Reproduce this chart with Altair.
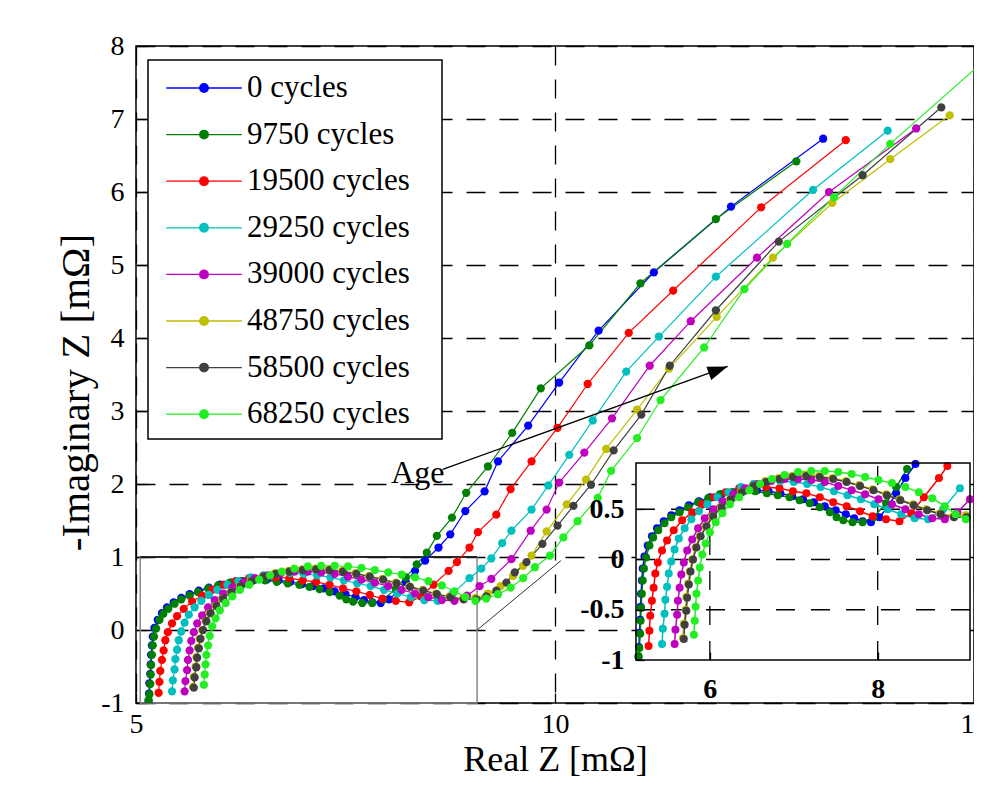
import altair as alt
import pandas as pd

SERIF = "Liberation Serif"

SERIES = ["0 cycles", "9750 cycles", "19500 cycles", "29250 cycles",
          "39000 cycles", "48750 cycles", "58500 cycles", "68250 cycles"]
COLORS = ["#0000ff", "#007f00", "#ff0000", "#00bfbf",
          "#bf00bf", "#bfbf00", "#404040", "#22ee22"]

# ---- series values (Real Z, -Imag Z) in mOhm ----
X_0 = [5.15, 5.155, 5.16, 5.17, 5.175, 5.18, 5.19, 5.20, 5.22, 5.26, 5.31, 5.37, 5.45, 5.54, 5.64, 5.75,
       5.87, 6.00, 6.14, 6.28, 6.42, 6.56, 6.70, 6.84, 6.98, 7.11, 7.24, 7.37, 7.50, 7.62, 7.72, 7.82,
       7.92, 8.02, 8.12, 8.22, 8.33, 8.45, 8.61, 8.75, 8.93, 9.16, 9.32, 9.68, 10.05, 10.52, 11.18, 12.10, 13.20]
Y_0 = [-0.97, -0.87, -0.73, -0.60, -0.47, -0.34, -0.21, -0.09, 0.03, 0.14, 0.23, 0.31, 0.38, 0.44, 0.49, 0.54,
       0.58, 0.62, 0.65, 0.67, 0.69, 0.69, 0.68, 0.66, 0.63, 0.60, 0.57, 0.53, 0.49, 0.45, 0.41, 0.38,
       0.37, 0.42, 0.52, 0.66, 0.81, 0.95, 1.13, 1.31, 1.63, 1.90, 2.31, 2.80, 3.39, 4.10, 4.90, 5.80, 6.73]

X_9750 = [5.15, 5.16, 5.17, 5.175, 5.18, 5.19, 5.20, 5.215, 5.24, 5.28, 5.325, 5.385, 5.46, 5.54, 5.64, 5.74,
          5.86, 5.98, 6.12, 6.26, 6.40, 6.54, 6.68, 6.81, 6.95, 7.07, 7.19, 7.31, 7.43, 7.51, 7.59, 7.70,
          7.82, 7.95, 8.10, 8.22, 8.35, 8.47, 8.59, 8.77, 8.94, 9.20, 9.49, 9.83, 10.41, 11.02, 11.92, 12.88]
Y_9750 = [-0.96, -0.88, -0.74, -0.61, -0.48, -0.34, -0.21, -0.09, 0.02, 0.14, 0.22, 0.29, 0.36, 0.42, 0.47, 0.52,
          0.57, 0.61, 0.65, 0.67, 0.68, 0.68, 0.66, 0.64, 0.62, 0.59, 0.56, 0.52, 0.47, 0.42, 0.39, 0.37,
          0.37, 0.42, 0.56, 0.72, 0.90, 1.06, 1.29, 1.54, 1.88, 2.24, 2.70, 3.31, 3.90, 4.75, 5.63, 6.42]

X_19500 = [5.27, 5.28, 5.29, 5.31, 5.33, 5.35, 5.38, 5.43, 5.49, 5.57, 5.67, 5.79, 5.91, 6.05, 6.19, 6.35,
           6.51, 6.67, 6.83, 6.99, 7.15, 7.31, 7.47, 7.63, 7.79, 7.94, 8.10, 8.26, 8.40, 8.55, 8.73, 8.83,
           8.98, 9.08, 9.30, 9.47, 9.72, 10.03, 10.39, 10.88, 11.41, 12.46, 13.47]
Y_19500 = [-0.86, -0.71, -0.56, -0.41, -0.28, -0.14, -0.03, 0.09, 0.19, 0.29, 0.39, 0.47, 0.55, 0.62, 0.67, 0.71,
           0.72, 0.72, 0.71, 0.68, 0.66, 0.62, 0.57, 0.53, 0.48, 0.43, 0.40, 0.38, 0.46, 0.62, 0.81, 0.93,
           1.13, 1.34, 1.58, 1.93, 2.31, 2.77, 3.37, 4.07, 4.65, 5.79, 6.71]

X_29250 = [5.43, 5.44, 5.46, 5.47, 5.49, 5.51, 5.54, 5.58, 5.63, 5.70, 5.78, 5.87, 5.97, 6.09, 6.22, 6.37,
           6.52, 6.68, 6.84, 7.00, 7.16, 7.32, 7.48, 7.64, 7.80, 7.96, 8.12, 8.28, 8.44, 8.60, 8.78, 8.98,
           9.12, 9.24, 9.37, 9.48, 9.72, 9.92, 10.17, 10.45, 10.85, 11.24, 11.92, 13.08, 13.97]
Y_29250 = [-0.84, -0.69, -0.54, -0.40, -0.27, -0.14, -0.02, 0.10, 0.21, 0.31, 0.40, 0.48, 0.55, 0.62, 0.67, 0.72,
           0.75, 0.77, 0.78, 0.77, 0.75, 0.72, 0.68, 0.64, 0.60, 0.55, 0.50, 0.45, 0.41, 0.40, 0.50, 0.71,
           0.84, 0.98, 1.19, 1.36, 1.65, 1.98, 2.40, 2.87, 3.54, 4.02, 4.84, 6.03, 6.84]

X_39000 = [5.58, 5.59, 5.61, 5.62, 5.64, 5.66, 5.69, 5.73, 5.79, 5.86, 5.94, 6.04, 6.15, 6.28, 6.42, 6.57,
           6.73, 6.89, 7.05, 7.21, 7.37, 7.53, 7.69, 7.85, 8.01, 8.17, 8.33, 8.49, 8.65, 8.80, 8.95, 9.10,
           9.24, 9.48, 9.71, 9.90, 10.05, 10.35, 10.68, 11.13, 11.62, 12.41, 13.27, 14.31]
Y_39000 = [-0.84, -0.70, -0.55, -0.41, -0.28, -0.15, -0.03, 0.09, 0.20, 0.31, 0.41, 0.50, 0.58, 0.65, 0.71, 0.75,
           0.78, 0.80, 0.80, 0.79, 0.77, 0.73, 0.69, 0.65, 0.60, 0.55, 0.50, 0.45, 0.41, 0.40, 0.47, 0.60,
           0.70, 0.97, 1.36, 1.65, 2.02, 2.43, 2.90, 3.62, 4.23, 5.10, 6.00, 6.87]

X_48750 = [5.68, 5.69, 5.71, 5.72, 5.74, 5.76, 5.79, 5.83, 5.88, 5.95, 6.03, 6.13, 6.24, 6.37, 6.51, 6.66,
           6.82, 6.98, 7.14, 7.30, 7.46, 7.62, 7.78, 7.94, 8.10, 8.26, 8.42, 8.58, 8.74, 8.90, 9.05, 9.20,
           9.35, 9.50, 9.62, 9.72, 9.90, 10.14, 10.37, 10.61, 10.98, 11.36, 11.93, 12.60, 13.31, 14.00, 14.71]
Y_48750 = [-0.78, -0.64, -0.50, -0.37, -0.24, -0.12, 0.00, 0.12, 0.23, 0.33, 0.43, 0.52, 0.60, 0.67, 0.73, 0.78,
           0.81, 0.83, 0.84, 0.83, 0.81, 0.78, 0.74, 0.70, 0.65, 0.60, 0.55, 0.50, 0.46, 0.43, 0.44, 0.50,
           0.60, 0.74, 0.88, 1.02, 1.35, 1.72, 2.06, 2.48, 3.02, 3.58, 4.29, 5.10, 5.85, 6.45, 7.05]

X_58500 = [5.69, 5.70, 5.72, 5.73, 5.75, 5.77, 5.80, 5.84, 5.89, 5.96, 6.04, 6.14, 6.25, 6.38, 6.52, 6.67,
           6.83, 6.99, 7.15, 7.31, 7.47, 7.63, 7.79, 7.95, 8.11, 8.27, 8.43, 8.59, 8.75, 8.91, 9.06, 9.18,
           9.30, 9.42, 9.52, 9.66, 9.85, 10.03, 10.22, 10.43, 10.70, 11.03, 11.37, 11.92, 12.67, 13.67, 14.61]
Y_58500 = [-0.79, -0.65, -0.51, -0.38, -0.25, -0.12, 0.00, 0.12, 0.23, 0.33, 0.43, 0.52, 0.60, 0.67, 0.73, 0.77,
           0.80, 0.82, 0.83, 0.82, 0.80, 0.77, 0.73, 0.69, 0.64, 0.59, 0.54, 0.49, 0.45, 0.42, 0.42, 0.46,
           0.54, 0.65, 0.79, 0.93, 1.18, 1.43, 1.70, 1.99, 2.46, 2.95, 3.62, 4.38, 5.32, 6.23, 7.16]

X_68250 = [5.81, 5.82, 5.83, 5.84, 5.86, 5.88, 5.91, 5.95, 6.00, 6.07, 6.15, 6.24, 6.35, 6.47, 6.60, 6.74,
           6.89, 7.05, 7.21, 7.37, 7.53, 7.69, 7.85, 8.01, 8.17, 8.33, 8.49, 8.65, 8.80, 8.93, 9.05, 9.18,
           9.32, 9.47, 9.62, 9.76, 9.94, 10.10, 10.27, 10.51, 10.67, 10.98, 11.26, 11.78, 12.26, 12.77, 13.33,
           14.00, 15.40]
Y_68250 = [-0.75, -0.61, -0.47, -0.34, -0.21, -0.08, 0.05, 0.16, 0.27, 0.37, 0.46, 0.55, 0.62, 0.69, 0.75, 0.80,
           0.84, 0.87, 0.88, 0.88, 0.87, 0.85, 0.82, 0.79, 0.76, 0.72, 0.67, 0.61, 0.53, 0.45, 0.40, 0.43,
           0.49, 0.58, 0.71, 0.86, 1.02, 1.27, 1.49, 1.81, 2.18, 2.63, 3.15, 3.87, 4.67, 5.29, 5.93,
           6.66, 8.08]

SERIES_X = [X_0, X_9750, X_19500, X_29250, X_39000, X_48750, X_58500, X_68250]
SERIES_Y = [Y_0, Y_9750, Y_19500, Y_29250, Y_39000, Y_48750, Y_58500, Y_68250]

# axes / annotation values
MAIN_X_DOMAIN = [5, 15]
MAIN_Y_DOMAIN = [-1, 8]
MAIN_X_TICKS = [5, 10, 15]
MAIN_Y_TICKS = [-1, 0, 1, 2, 3, 4, 5, 6, 7, 8]
INSET_X_DOMAIN = [5.12, 9.1]
INSET_Y_DOMAIN = [-1.0, 0.96]
INSET_X_TICKS = [6, 8]
INSET_Y_TICKS = [-1, -0.5, 0, 0.5]
ZOOM_BOX_X = [5.05, 9.07]
ZOOM_BOX_Y = [-1, 1]
CONNECTOR = [9.07, 0.0, 10.07, 0.95]
ARROW = [8.66, 2.20, 12.06, 3.61]
AGE_LABEL = ["Age", 8.68, 2.02]

rows = []
for si, (name, xs, ys) in enumerate(zip(SERIES, SERIES_X, SERIES_Y)):
    if len(xs) != len(ys):
        raise ValueError(name)
    for i, (xv, yv) in enumerate(zip(xs, ys)):
        rows.append({"series": name, "si": si, "i": i, "x": xv, "y": yv})
df = pd.DataFrame(rows)

# ---------------- encodings ----------------
sx_main = alt.Scale(domain=MAIN_X_DOMAIN, nice=False, zero=False)
sy_main = alt.Scale(domain=MAIN_Y_DOMAIN, nice=False, zero=False)
ax_main = alt.Axis(values=MAIN_X_TICKS, format="d", title="Real Z [mΩ]", grid=True,
                   gridDash=[19, 14], gridColor="black", gridOpacity=1, gridWidth=1.3,
                   domain=False, ticks=True, tickSize=10, tickColor="black", tickWidth=1.3,
                   offset=-10, labelFont=SERIF, labelFontSize=28, labelColor="black",
                   labelPadding=7, labelFlush=False, titleFont=SERIF, titleFontSize=36,
                   titleFontWeight="normal", titleColor="black", titleY=77,
                   titleBaseline="alphabetic")
ay_main = alt.Axis(values=MAIN_Y_TICKS, title="-Imaginary Z [mΩ]", grid=True,
                   gridDash=[19, 14], gridColor="black", gridOpacity=1, gridWidth=1.3,
                   domain=False, ticks=True, tickSize=11, tickColor="black", tickWidth=1.3,
                   offset=-11, labelFont=SERIF, labelFontSize=28, labelColor="black",
                   labelPadding=12, labelFlush=False, labelExpr="'' + datum.value",
                   titleFont=SERIF, titleFontSize=41, titleFontWeight="normal",
                   titleColor="black", titleX=-50, titleY=346, titleAngle=270,
                   titleBaseline="bottom")

sx_in = alt.Scale(domain=INSET_X_DOMAIN, range=[500, 834], nice=False, zero=False)
sy_in = alt.Scale(domain=INSET_Y_DOMAIN, range=[614, 417], nice=False, zero=False)
ax_in = alt.Axis(orient="bottom", values=INSET_X_TICKS, format="d", title=None, grid=False,
                 domain=False, ticks=True, tickSize=8, tickColor="black", tickWidth=1.3,
                 offset=-51, labelFont=SERIF, labelFontSize=28, labelFontWeight="bold",
                 labelColor="black", labelPadding=15, labelFlush=False, zindex=1)
ay_in = alt.Axis(orient="left", values=INSET_Y_TICKS, title=None, grid=False,
                 domain=False, ticks=True, tickSize=8, tickColor="black", tickWidth=1.3,
                 offset=-508, labelFont=SERIF, labelFontSize=28, labelFontWeight="bold",
                 labelColor="black", labelPadding=12, labelFlush=False,
                 labelExpr="'' + datum.value", zindex=1)

LEGEND_SYMBOL = ("M-2.1,0L2.1,0M-0.24,0A0.24,0.24,0,1,1,0.24,0"
                 "A0.24,0.24,0,1,1,-0.24,0Z")
# blank (non-whitespace) padding so the legend box keeps the reference's width
LEGEND = alt.Legend(title=None, orient="none", legendX=12, legendY=14,
                    symbolType=LEGEND_SYMBOL, symbolSize=1296, symbolStrokeWidth=1.3,
                    symbolOffset=28, symbolOpacity=1,
                    labelFont=SERIF, labelFontSize=31, labelColor="black", labelOffset=24,
                    labelLimit=500,
                    labelExpr="datum.label + '\u2800'",
                    padding=9, rowPadding=12.6, fillColor="white", strokeColor="black")
color_scale = alt.Scale(domain=SERIES, range=COLORS)
stroke_enc = alt.Stroke("series:N", scale=color_scale, legend=LEGEND)
fill_enc = alt.Fill("series:N", scale=color_scale, legend=LEGEND)


def mx(f="x"):
    return alt.X(f"{f}:Q", scale=sx_main, axis=ax_main)


def my(f="y"):
    return alt.Y(f"{f}:Q", scale=sy_main, axis=ay_main)


def ix(f="x"):
    return alt.X(f"{f}:Q", scale=sx_in, axis=ax_in)


def iy(f="y"):
    return alt.Y(f"{f}:Q", scale=sy_in, axis=ay_in)


box_df = pd.DataFrame({"x0": [ZOOM_BOX_X[0]], "x1": [ZOOM_BOX_X[1]],
                       "y0": [ZOOM_BOX_Y[0]], "y1": [ZOOM_BOX_Y[1]]})
conn_df = pd.DataFrame({"x0": [CONNECTOR[0]], "y0": [CONNECTOR[1]],
                        "x1": [CONNECTOR[2]], "y1": [CONNECTOR[3]]})
arrow_df = pd.DataFrame({"x0": [ARROW[0]], "y0": [ARROW[1]],
                         "x1": [ARROW[2]], "y1": [ARROW[3]]})
age_df = pd.DataFrame({"t": [AGE_LABEL[0]], "x": [AGE_LABEL[1]], "y": [AGE_LABEL[2]]})

zoom_box = alt.Chart(box_df).mark_rect(fillOpacity=0, stroke="#8a8a8a", strokeWidth=1.5).encode(
    x=mx("x0"), x2="x1:Q", y=my("y0"), y2="y1:Q")
zoom_top = alt.Chart(box_df).mark_rule(color="black", strokeWidth=1.5).encode(
    x=mx("x0"), x2="x1:Q", y=my("y1"))
connector = alt.Chart(conn_df).mark_rule(color="#333333", strokeWidth=1).encode(
    x=mx("x0"), y=my("y0"), x2="x1:Q", y2="y1:Q")
main_lines = alt.Chart(df).mark_line(strokeWidth=1.2, clip=True).encode(
    x=mx(), y=my(), stroke=stroke_enc, order=alt.Order("i:Q"))
main_points = alt.Chart(df).mark_point(filled=True, size=68, opacity=1, strokeWidth=0,
                                       clip=True).encode(x=mx(), y=my(), fill=fill_enc)
arrow_line = alt.Chart(arrow_df).mark_rule(color="black", strokeWidth=1.3).encode(
    x=mx("x0"), y=my("y0"), x2="x1:Q", y2="y1:Q")
arrow_head = alt.Chart(arrow_df).mark_point(shape="M0,0L-2,-0.7L-2,0.7Z", size=400,
                                            filled=True, color="black", opacity=1,
                                            strokeWidth=0, angle=340).encode(
    x=mx("x1"), y=my("y1"))
age_text = alt.Chart(age_df).mark_text(font=SERIF, fontSize=32, align="right",
                                       baseline="alphabetic", color="black").encode(
    x=mx(), y=my(), text="t:N")

main = alt.layer(zoom_box, zoom_top, connector, main_lines, main_points,
                 arrow_line, arrow_head, age_text)

# ---------------- inset ----------------
frame_df = pd.DataFrame({"x0": [INSET_X_DOMAIN[0]], "x1": [INSET_X_DOMAIN[1]],
                         "y0": [INSET_Y_DOMAIN[0]], "y1": [INSET_Y_DOMAIN[1]]})
gx_df = pd.DataFrame({"x": INSET_X_TICKS, "y0": INSET_Y_DOMAIN[0], "y1": INSET_Y_DOMAIN[1]})
gy_df = pd.DataFrame({"y": [v for v in INSET_Y_TICKS if v > INSET_Y_DOMAIN[0]],
                      "x0": INSET_X_DOMAIN[0], "x1": INSET_X_DOMAIN[1]})
in_filter = ((alt.datum.x >= INSET_X_DOMAIN[0]) & (alt.datum.x <= INSET_X_DOMAIN[1])
             & (alt.datum.y >= INSET_Y_DOMAIN[0]) & (alt.datum.y <= INSET_Y_DOMAIN[1] + 0.02))

inset_bg = alt.Chart(frame_df).mark_rect(color="white", opacity=1).encode(
    x=ix("x0"), x2="x1:Q", y=iy("y0"), y2="y1:Q")
inset_gx = alt.Chart(gx_df).mark_rule(color="black", strokeWidth=1.3,
                                      strokeDash=[19, 16]).encode(
    x=ix("x"), y=iy("y0"), y2="y1:Q")
inset_gy = alt.Chart(gy_df).mark_rule(color="black", strokeWidth=1.3,
                                      strokeDash=[19, 16]).encode(
    y=iy("y"), x=ix("x0"), x2="x1:Q")
inset_lines = alt.Chart(df).transform_filter(in_filter).mark_line(strokeWidth=1.5).encode(
    x=ix(), y=iy(), stroke=stroke_enc, order=alt.Order("i:Q"))
inset_points = alt.Chart(df).transform_filter(in_filter).mark_point(
    filled=True, size=64, opacity=1, strokeWidth=0).encode(x=ix(), y=iy(), fill=fill_enc)
inset_frame = alt.Chart(frame_df).mark_rect(fillOpacity=0, stroke="black",
                                            strokeWidth=1.5).encode(
    x=ix("x0"), x2="x1:Q", y=iy("y0"), y2="y1:Q")

inset = alt.layer(inset_bg, inset_gx, inset_gy, inset_lines, inset_points, inset_frame)

chart = alt.layer(main, inset).resolve_scale(x="independent", y="independent").properties(
    width=838, height=657,
    padding={"left": 128, "top": 38, "right": 0, "bottom": 75},
    autosize=alt.AutoSizeParams(type="none"),
    background="white",
).configure_view(stroke="black", strokeWidth=1.5).configure_legend(strokeWidth=1.5)

chart.save("out.html", embed_options={"renderer": "svg", "actions": False})
